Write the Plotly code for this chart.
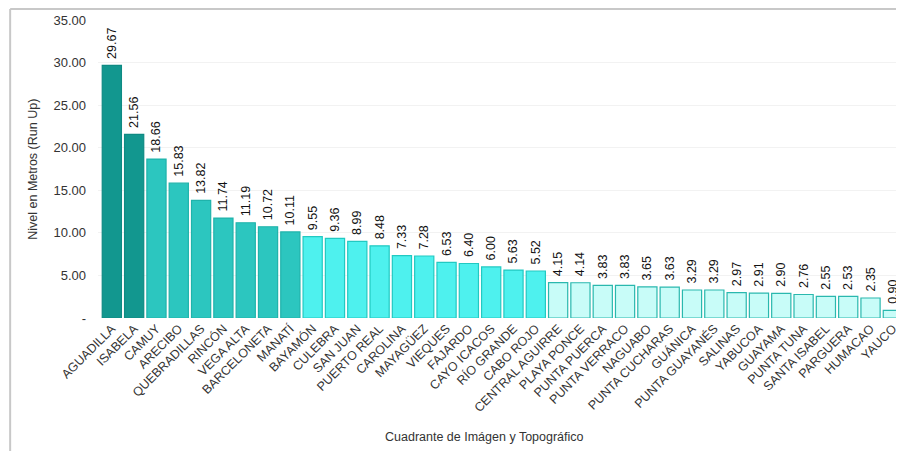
import plotly.graph_objects as go

# Run Up level per quadrant
lugares = [
    "AGUADILLA", "ISABELA", "CAMUY", "ARECIBO", "QUEBRADILLAS", "RINCÓN",
    "VEGA ALTA", "BARCELONETA", "MANATÍ", "BAYAMÓN", "CULEBRA", "SAN JUAN",
    "PUERTO REAL", "CAROLINA", "MAYAGÜEZ", "VIEQUES", "FAJARDO", "CAYO ICACOS",
    "RÍO GRANDE", "CABO ROJO", "CENTRAL AGUIRRE", "PLAYA PONCE", "PUNTA PUERCA",
    "PUNTA VERRACO", "NAGUABO", "PUNTA CUCHARAS", "GUÁNICA", "PUNTA GUAYANÉS",
    "SALINAS", "YABUCOA", "GUAYAMA", "PUNTA TUNA", "SANTA ISABEL", "PARGUERA",
    "HUMACAO", "YAUCO",
]
run_up = [
    29.67, 21.56, 18.66, 15.83, 13.82, 11.74, 11.19, 10.72, 10.11, 9.55,
    9.36, 8.99, 8.48, 7.33, 7.28, 6.53, 6.40, 6.00, 5.63, 5.52,
    4.15, 4.14, 3.83, 3.83, 3.65, 3.63, 3.29, 3.29, 2.97, 2.91,
    2.90, 2.76, 2.55, 2.53, 2.35, 0.90,
]
# colour group of each bar (0 = darkest)
grupo = [0] * 2 + [1] * 7 + [2] * 11 + [3] * 16
y_ticks = [0, 5, 10, 15, 20, 25, 30, 35]

colores = ["#12978f", "#2cc6bf", "#4ef1ee", "#c8fcf8"]
bordes = ["#0e8a83", "#1fb3ab", "#22c9c2", "#2ab8ae"]

fig = go.Figure(go.Bar(
    x=lugares,
    y=run_up,
    marker=dict(color=[colores[g] for g in grupo],
                line=dict(color=[bordes[g] for g in grupo], width=1.2)),
    texttemplate="\u00a0%{y:.2f}",  # small gap above the bar
    textposition="outside",
    textangle=-90,
    constraintext="none",
    textfont=dict(size=12.5, color="#111111"),
    cliponaxis=False,
))

# the page body adds an 8px offset, so the figure is drawn 8px smaller
fig.update_layout(
    width=896, height=443,
    margin=dict(l=90, r=0, t=12, b=133),
    paper_bgcolor="white",
    plot_bgcolor="white",
    font=dict(family="Liberation Sans, Arial", color="#333333"),
    showlegend=False,
    bargap=0.14,
    xaxis=dict(
        tickangle=-45,
        tickfont=dict(size=12.5, color="#333333"),
        automargin=False,
        showline=False,
        ticks="",
        range=[-0.62, 35.5],
    ),
    yaxis=dict(
        range=[0, 35],
        tickvals=y_ticks,
        ticktext=["-"] + ["%.2f" % v for v in y_ticks[1:]],
        tickfont=dict(size=13, color="#333333"),
        automargin=False,
        showgrid=True,
        gridcolor="#f2f2f2",
        zeroline=False,
        ticks="",
        ticklabelstandoff=11,
    ),
    annotations=[
        dict(text="Cuadrante de Imágen y Topográfico", xref="paper", yref="paper",
             x=0.48, y=-0.40, xanchor="center", yanchor="middle",
             showarrow=False, font=dict(size=12.5, color="#333333")),
        dict(text="Nivel en Metros (Run Up)", xref="paper", yref="paper",
             x=-0.081, y=0.5, xanchor="center", yanchor="middle",
             textangle=-90, showarrow=False,
             font=dict(size=12.5, color="#333333")),
    ],
    shapes=[
        dict(type="line", xref="paper", yref="paper",
             x0=-0.109, x1=1.01, y0=1.037, y1=1.037,
             line=dict(color="#c8c8c8", width=2)),
        dict(type="line", xref="paper", yref="paper",
             x0=-0.109, x1=-0.109, y0=1.037, y1=-0.45,
             line=dict(color="#c8c8c8", width=2)),
    ],
)

fig.write_html("out.html")
